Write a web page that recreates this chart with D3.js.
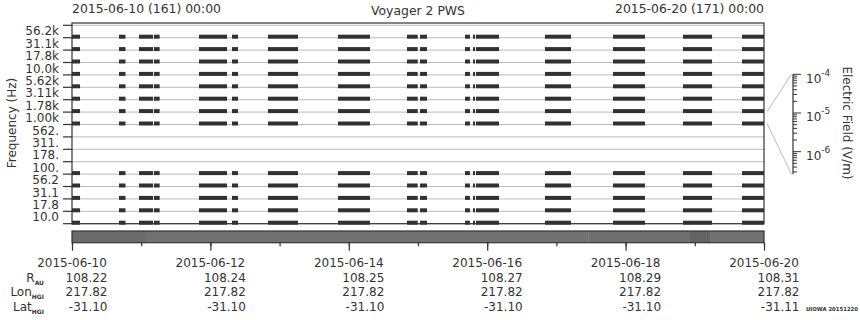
<!DOCTYPE html>
<html>
<head>
<meta charset="utf-8">
<script src="https://cdn.jsdelivr.net/npm/d3@7"></script>
<style>
body { margin: 0; background: #fff; }
svg { font-family: "DejaVu Sans", sans-serif; }
</style>
</head>
<body>
<svg id="chart" width="860" height="320"></svg>
<script>

// frequency channels, top to bottom
var channels = ["56.2k","31.1k","17.8k","10.0k","5.62k","3.11k","1.78k","1.00k",
	"562.","311.","178.","100.","56.2","31.1","17.8","10.0"];
var activeChannels = ["56.2k","31.1k","17.8k","10.0k","5.62k","3.11k","1.78k","1.00k",
	"100.","56.2","31.1","17.8","10.0"];

// data coverage intervals (UTC)
var segStart = ["2015-06-10T00:00","2015-06-10T16:18","2015-06-10T23:14","2015-06-11T04:26",
	"2015-06-11T20:02","2015-06-12T07:29","2015-06-12T19:58","2015-06-13T20:15",
	"2015-06-14T20:11","2015-06-15T00:42","2015-06-15T16:18","2015-06-15T19:05",
	"2015-06-15T20:07","2015-06-16T20:02","2015-06-17T19:38","2015-06-18T19:54",
	"2015-06-19T16:22"];
var segEnd = ["2015-06-10T02:47","2015-06-10T18:33","2015-06-11T04:06","2015-06-11T06:24",
	"2015-06-12T05:46","2015-06-12T09:35","2015-06-13T06:23","2015-06-14T07:21",
	"2015-06-14T23:54","2015-06-15T03:07","2015-06-15T18:01","2015-06-15T19:47",
	"2015-06-16T04:06","2015-06-17T05:04","2015-06-18T06:43","2015-06-19T05:59",
	"2015-06-20T00:00"];

// status bar under the plot
var statusStart = ["2015-06-10T00:00","2015-06-11T02:00","2015-06-17T11:00","2015-06-18T22:20","2015-06-19T05:17"];
var statusEnd = ["2015-06-11T02:00","2015-06-17T11:00","2015-06-18T22:20","2015-06-19T05:17","2015-06-20T00:00"];
var statusLevel = [0.42, 0.445, 0.435, 0.39, 0.445];

var dateTicks = ["2015-06-10","2015-06-12","2015-06-14","2015-06-16","2015-06-18","2015-06-20"];
var rAU = ["108.22","108.24","108.25","108.27","108.29","108.31"];
var lonHGI = ["217.82","217.82","217.82","217.82","217.82","217.82"];
var latHGI = ["-31.10","-31.10","-31.10","-31.10","-31.10","-31.11"];

var fieldTicks = [1e-4, 1e-5, 1e-6];

var ink = "#333";
var parse = d3.utcParse("%Y-%m-%dT%H:%M");
var parseDay = d3.utcParse("%Y-%m-%d");

var svg = d3.select("#chart");

var x = d3.scaleUtc()
	.domain([parseDay("2015-06-10"), parseDay("2015-06-20")])
	.range([72, 764]);

var y = d3.scaleBand()
	.domain(channels)
	.range([25.3, 223.7]);

var step = y.step();
var bounds = channels.map(function(c){ return y(c); }).concat([y.range()[1]]);

// gridlines
svg.append("g").selectAll("line").data(bounds).enter()
	.append("line")
	.attr("x1", 72).attr("x2", 764)
	.attr("y1", function(d){ return d; })
	.attr("y2", function(d){ return d; })
	.style("stroke", "#bbb")
	.style("stroke-width", 1);

// bars
var segs = segStart.map(function(s, i){ return [parse(s), parse(segEnd[i])]; });
activeChannels.forEach(function(c){
	svg.append("g").selectAll("rect").data(segs).enter()
		.append("rect")
		.attr("x", function(d){ return x(d[0]); })
		.attr("width", function(d){ return x(d[1]) - x(d[0]); })
		.attr("y", y(c) + step - 3)
		.attr("height", 4)
		.style("fill", "#313131");
});

// frame
svg.append("rect")
	.attr("x", 72).attr("y", 23)
	.attr("width", 692).attr("height", 200.7)
	.style("fill", "none")
	.style("stroke", ink)
	.style("stroke-width", 1.2);

// left ticks at channel boundaries
svg.append("g").selectAll("line").data(bounds).enter()
	.append("line")
	.attr("x1", 63).attr("x2", 72)
	.attr("y1", function(d){ return d; })
	.attr("y2", function(d){ return d; })
	.style("stroke", ink)
	.style("stroke-width", 1.2);

var yAxis = svg.append("g")
	.attr("transform", "translate(72,0)")
	.call(d3.axisLeft(y).tickSize(0).tickPadding(13));
yAxis.select(".domain").remove();
yAxis.selectAll("text")
	.style("font-size", "12px")
	.style("fill", ink)
	.style("font-family", "DejaVu Sans");

svg.append("text")
	.attr("transform", "translate(12,123) rotate(-90)")
	.attr("text-anchor", "middle")
	.attr("dominant-baseline", "central")
	.style("font-size", "12px")
	.style("fill", ink)
	.text("Frequency (Hz)");

// titles
svg.append("text").attr("x", 72).attr("y", 12.5)
	.style("font-size", "12.4px").style("fill", ink)
	.text("2015-06-10 (161) 00:00");
svg.append("text").attr("x", 764).attr("y", 12.5)
	.attr("text-anchor", "end")
	.style("font-size", "12.4px").style("fill", ink)
	.text("2015-06-20 (171) 00:00");
svg.append("text").attr("x", 418).attr("y", 15)
	.attr("text-anchor", "middle")
	.style("font-size", "12.4px").style("fill", ink)
	.text("Voyager 2 PWS");

// status bar
var shade = d3.scaleLinear().domain([0, 1]).range(["#000", "#fff"]);
svg.append("g").selectAll("rect").data(statusStart).enter()
	.append("rect")
	.attr("x", function(d){ return x(parse(d)); })
	.attr("width", function(d, i){ return x(parse(statusEnd[i])) - x(parse(d)); })
	.attr("y", 231).attr("height", 11.7)
	.style("fill", function(d, i){ return shade(statusLevel[i]); });
svg.append("rect")
	.attr("x", 72).attr("y", 231)
	.attr("width", 692).attr("height", 11.7)
	.style("fill", "none")
	.style("stroke", ink)
	.style("stroke-width", 1.2);

var minorAxis = svg.append("g")
	.attr("transform", "translate(0,242.7)")
	.call(d3.axisBottom(x).ticks(d3.utcDay.every(1)).tickSize(3.5).tickFormat(""));
var majorAxis = svg.append("g")
	.attr("transform", "translate(0,242.7)")
	.call(d3.axisBottom(x).tickValues(dateTicks.map(parseDay)).tickSize(8).tickFormat(""));
[minorAxis, majorAxis].forEach(function(a){
	a.select(".domain").remove();
	a.selectAll("line").style("stroke", ink).style("stroke-width", 1.2);
});

// ephemeris table
var rowY = [266.5, 281.5, 296, 310.5];
dateTicks.forEach(function(d, i){
	var tx = x(parseDay(d));
	svg.append("text").attr("x", tx).attr("y", rowY[0])
		.attr("text-anchor", "middle")
		.style("font-size", "12px").style("fill", ink)
		.text(d);
	[rAU, lonHGI, latHGI].forEach(function(r, j){
		svg.append("text").attr("x", tx + 35.5).attr("y", rowY[j + 1])
			.attr("text-anchor", "end")
			.style("font-size", "12px").style("fill", ink)
			.text(r[i]);
	});
});

var rowNames = [["R", "AU"], ["Lon", "HGI"], ["Lat", "HGI"]];
rowNames.forEach(function(n, j){
	var t = svg.append("text").attr("x", 44).attr("y", rowY[j + 1])
		.attr("text-anchor", "end")
		.style("fill", ink);
	t.append("tspan").style("font-size", "12px").text(n[0]);
	t.append("tspan").attr("dy", 3).style("font-size", "6px").style("font-weight", "bold").text(n[1]);
});

// electric field scale
var ef = d3.scaleLog().domain([2.6e-7, 1e-4]).range([174.3, 74.3]);
var efMinor = ef.ticks().filter(function(d){ return d >= ef.domain()[0]; });

svg.append("line")
	.attr("x1", 793).attr("x2", 793)
	.attr("y1", ef.range()[0]).attr("y2", ef.range()[1])
	.style("stroke", ink).style("stroke-width", 1.2);
svg.append("g").selectAll("line").data(efMinor).enter()
	.append("line")
	.attr("x1", 793)
	.attr("x2", function(d){ return fieldTicks.indexOf(d) >= 0 ? 801 : 797; })
	.attr("y1", function(d){ return ef(d); })
	.attr("y2", function(d){ return ef(d); })
	.style("stroke", ink).style("stroke-width", 1);

fieldTicks.forEach(function(v){
	var t = svg.append("text").attr("x", 806).attr("y", ef(v) + 8.5)
		.style("fill", ink);
	t.append("tspan").style("font-size", "12px").text("10");
	t.append("tspan").attr("dy", -7).style("font-size", "9px")
		.text(String(Math.round(Math.log10(v))));
});

// connector lines from plot to scale
svg.append("line")
	.attr("x1", 767).attr("y1", 111.7)
	.attr("x2", 791.5).attr("y2", ef.range()[1])
	.style("stroke", "#bbb");
svg.append("line")
	.attr("x1", 767).attr("y1", 123.3)
	.attr("x2", 791.5).attr("y2", ef.range()[0])
	.style("stroke", "#bbb");

svg.append("text")
	.attr("transform", "translate(847,123) rotate(90)")
	.attr("text-anchor", "middle")
	.attr("dominant-baseline", "central")
	.style("font-size", "12px")
	.style("fill", ink)
	.text("Electric Field (V/m)");

svg.append("text")
	.attr("x", 806).attr("y", 311)
	.attr("textLength", 52)
	.attr("lengthAdjust", "spacingAndGlyphs")
	.style("font-size", "5.5px").style("font-weight", "bold")
	.style("fill", ink)
	.text("UIOWA 20151220");

</script>
</body>
</html>
